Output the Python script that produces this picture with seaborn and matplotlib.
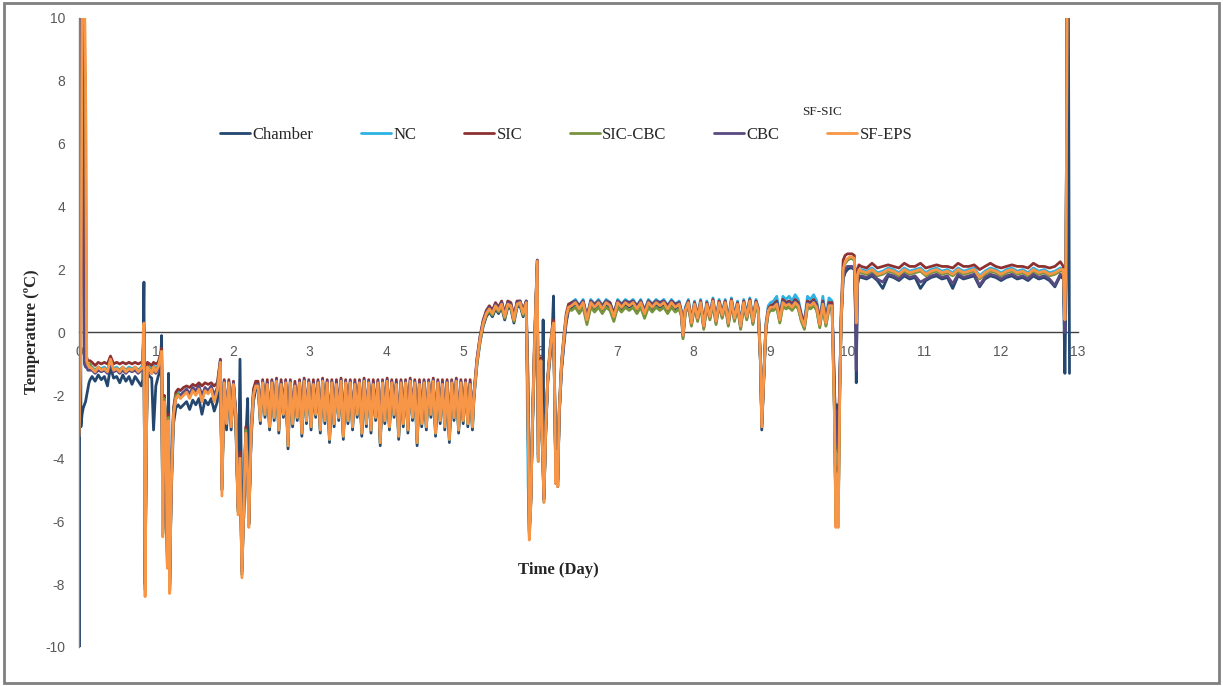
import pandas as pd
import seaborn as sns
import matplotlib.pyplot as plt
from matplotlib.patches import Rectangle

# sample times (day), shared by all six probes
day = [
    # start-up
    0.0, 0.006, 0.012, 0.025, 0.04, 0.055, 0.07, 0.085, 0.1, 0.115, 0.13, 0.145,
    # first plateau
    0.17, 0.21, 0.25, 0.29, 0.33, 0.37, 0.41, 0.45, 0.49, 0.53, 0.57, 0.61, 0.65, 0.69, 0.73, 0.77, 0.81,
    # door openings ~1 day
    0.83, 0.845, 0.86, 0.875, 0.89, 0.92, 0.946, 0.97, 1.0, 1.03, 1.06, 1.075, 1.09, 1.11, 1.13, 1.15,
    1.165, 1.18, 1.2, 1.23, 1.26, 1.29,
    # second plateau
    1.32, 1.36, 1.40, 1.44, 1.48, 1.52, 1.56, 1.60, 1.64, 1.68, 1.72, 1.76, 1.80,
    # dips ~2 days
    1.84, 1.86, 1.89, 1.92, 1.95, 1.98, 2.01, 2.04, 2.07, 2.095, 2.12, 2.145, 2.17, 2.195, 2.21, 2.24, 2.27, 2.30,
    # cycling -2 .. -3
    2.33, 2.36, 2.39, 2.42, 2.45, 2.48, 2.51, 2.54, 2.57, 2.60,
    2.63, 2.66, 2.69, 2.72, 2.75, 2.78, 2.81, 2.84, 2.87, 2.90,
    2.93, 2.96, 2.99, 3.02, 3.05, 3.08, 3.11, 3.14, 3.17, 3.20,
    3.23, 3.26, 3.29, 3.32, 3.35, 3.38, 3.41, 3.44, 3.47, 3.50,
    3.53, 3.56, 3.59, 3.62, 3.65, 3.68, 3.71, 3.74, 3.77, 3.80,
    3.83, 3.86, 3.89, 3.92, 3.95, 3.98, 4.01, 4.04, 4.07, 4.10,
    4.13, 4.16, 4.19, 4.22, 4.25, 4.28, 4.31, 4.34, 4.37, 4.40,
    4.43, 4.46, 4.49, 4.52, 4.55, 4.58, 4.61, 4.64, 4.67, 4.70,
    4.73, 4.76, 4.79, 4.82, 4.85, 4.88, 4.91, 4.94, 4.97, 5.00,
    5.03, 5.06, 5.09, 5.12,
    # warm-up to ~1
    5.14, 5.18, 5.22, 5.26, 5.30, 5.34, 5.38, 5.42, 5.46, 5.50, 5.54, 5.58, 5.62, 5.66, 5.70, 5.74, 5.78, 5.82,
    # dips ~6 days
    5.845, 5.86, 5.88, 5.90, 5.93, 5.95, 5.964, 5.977, 5.995, 6.01, 6.03, 6.04, 6.05, 6.075, 6.10, 6.13,
    6.155, 6.175, 6.19, 6.205, 6.215, 6.23, 6.25, 6.28, 6.31, 6.34, 6.37,
    # plateau ~1
    6.41, 6.46, 6.51, 6.56, 6.61, 6.66, 6.71, 6.76, 6.81, 6.86,
    6.91, 6.96, 7.01, 7.06, 7.11, 7.16, 7.21, 7.26, 7.31, 7.36,
    7.41, 7.46, 7.51, 7.56, 7.61, 7.66, 7.71, 7.76, 7.81,
    # cycling 0.2 .. 1
    7.84, 7.86, 7.89, 7.93, 7.97, 8.01, 8.05, 8.09, 8.13, 8.17, 8.21, 8.25, 8.29, 8.33, 8.37, 8.41,
    8.45, 8.49, 8.53, 8.57, 8.61, 8.65, 8.69, 8.73, 8.77, 8.81, 8.84,
    # dip ~8.9
    8.87, 8.885, 8.91, 8.94, 8.97, 9.0,
    # plateau
    9.04, 9.08, 9.12, 9.16, 9.20, 9.24, 9.28, 9.32, 9.36, 9.40, 9.44, 9.48, 9.52, 9.56, 9.60, 9.64, 9.68, 9.72, 9.76,
    # dip ~9.85 and step to 2
    9.80, 9.83, 9.85, 9.865, 9.88, 9.90, 9.92, 9.945, 9.97, 10.0, 10.03, 10.06, 10.09, 10.105, 10.115, 10.13, 10.15,
    # plateau ~2
    10.18, 10.25, 10.32, 10.39, 10.46, 10.53, 10.60, 10.67, 10.74, 10.81,
    10.88, 10.95, 11.02, 11.09, 11.16, 11.23, 11.30, 11.37, 11.44, 11.51,
    11.58, 11.65, 11.72, 11.79, 11.86, 11.93, 12.00, 12.07, 12.14, 12.21,
    12.28, 12.35, 12.42, 12.49, 12.56, 12.63, 12.70, 12.77,
    # end
    12.81, 12.83, 12.845, 12.86, 12.875, 12.89,
]

chamber = [
    -6.0, -10.0, 11.0, -3.0, -2.6, -2.4, -2.3, -2.2, -2.0, -1.8, -1.6, -1.5,
    -1.4, -1.55, -1.35, -1.5, -1.4, -1.7, -1.1, -1.45, -1.4, -1.6, -1.35, -1.55, -1.4, -1.65, -1.4, -1.55, -1.7,
    -1.5, 1.6, -7.9, -3.0, -1.3, -1.4, -1.45, -3.1, -1.7, -1.4, -1.2, -0.1, -6.0, -2.4, -3.2, -7.0,
    -1.3, -7.8, -5.2, -2.9, -2.4, -2.3,
    -2.4, -2.3, -2.2, -2.45, -2.15, -2.3, -2.1, -2.6, -2.15, -2.3, -2.1, -2.5, -2.2,
    -1.0, -4.6, -1.7, -3.1, -1.7, -3.1, -1.7, -2.9, -5.6, -0.85, -6.0, -5.9, -3.4, -2.1, -5.9, -3.4, -2.2, -1.8,
    -1.75, -2.9, -1.65, -2.7, -1.7, -3.1, -1.65, -2.8, -1.6, -3.2,
    -1.7, -2.7, -1.65, -3.7, -1.65, -3.0, -1.75, -2.8, -1.65, -3.3,
    -1.6, -2.9, -1.65, -3.1, -1.7, -2.7, -1.65, -3.2, -1.6, -2.9,
    -1.65, -3.5, -1.65, -3.0, -1.7, -2.8, -1.6, -3.4, -1.65, -2.9,
    -1.65, -3.1, -1.7, -2.7, -1.65, -3.3, -1.6, -3.0, -1.65, -3.2,
    -1.7, -2.8, -1.65, -3.6, -1.65, -2.9, -1.6, -3.1, -1.65, -2.7,
    -1.7, -3.4, -1.65, -3.0, -1.65, -3.2, -1.6, -2.8, -1.65, -3.6,
    -1.7, -3.0, -1.65, -3.1, -1.65, -2.7, -1.6, -3.3, -1.65, -2.9,
    -1.7, -3.1, -1.65, -3.5, -1.65, -2.8, -1.6, -3.2, -1.65, -2.9,
    -1.65, -3.0, -1.7, -3.1,
    -2.1, -1.0, -0.3, 0.2, 0.5, 0.65, 0.5, 0.75, 0.6, 0.8, 0.4, 0.8, 0.75, 0.3, 0.8, 0.85, 0.5, 0.9,
    -1.6, -6.0, -5.2, -3.2, -0.5, 1.1, 2.1, -3.9, -2.4, -1.0, -3.3, 0.4, -5.2, -3.1, -1.6, -0.8,
    -0.2, 1.16, -1.8, -4.6, -3.6, -4.7, -2.6, -1.2, -0.4, 0.3, 0.7,
    0.8, 0.9, 0.7, 0.9, 0.35, 0.9, 0.75, 0.9, 0.7, 0.9,
    0.8, 0.45, 0.9, 0.75, 0.9, 0.8, 0.9, 0.7, 0.9, 0.55,
    0.9, 0.75, 0.9, 0.8, 0.9, 0.7, 0.9, 0.75, 0.85,
    0.55, -0.15, 0.65, 0.9, 0.25, 0.85, 0.4, 0.9, 0.15, 0.85, 0.45, 0.95, 0.3, 0.9, 0.5, 0.9,
    0.25, 0.95, 0.4, 0.85, 0.15, 0.9, 0.45, 0.95, 0.3, 0.9, 0.65,
    -1.1, -3.1, -1.6, 0.1, 0.65, 0.75,
    0.75, 0.85, 0.35, 0.9, 0.8, 0.85, 0.75, 0.9, 0.8, 0.4, 0.15, 0.85, 0.8, 0.9, 0.75, 0.2, 0.85, 0.25, 0.8,
    0.8, -1.5, -3.7, -2.3, -3.8, -1.5, 0.4, 1.7, 1.9, 2.0, 2.05, 2.05, 2.0, 0.5, -1.6, 1.5, 1.75,
    1.75, 1.7, 1.8, 1.65, 1.4, 1.8, 1.75, 1.65, 1.8, 1.7,
    1.75, 1.4, 1.65, 1.75, 1.8, 1.7, 1.75, 1.4, 1.8, 1.7,
    1.75, 1.8, 1.45, 1.7, 1.8, 1.75, 1.65, 1.75, 1.8, 1.7,
    1.75, 1.65, 1.8, 1.7, 1.75, 1.65, 1.45, 1.8,
    1.7, -1.3, 1.5, 11.0, 11.0, -1.3,
]

nc = [
    -3.0, -2.6, 11.0, 11.0, 11.0, 11.0, 10.5, 1.0, -1.0, -1.0, -1.1, -1.1,
    -1.1, -1.2, -1.1, -1.15, -1.1, -1.2, -0.9, -1.15, -1.1, -1.2, -1.1, -1.2, -1.1, -1.15, -1.1, -1.2, -1.1,
    -1.05, 0.25, -8.2, -3.8, -1.05, -1.1, -1.2, -1.05, -1.15, -1.05, -0.75, -0.55, -6.4, -2.1, -2.9, -7.4,
    -2.7, -8.2, -4.8, -2.5, -2.0, -1.9,
    -2.0, -1.9, -1.85, -2.0, -1.8, -1.9, -1.75, -2.1, -1.8, -1.9, -1.75, -2.1, -1.8,
    -0.9, -5.0, -1.55, -2.8, -1.55, -2.9, -1.6, -2.6, -5.7, -3.9, -7.7, -5.4, -3.1, -4.4, -6.1, -3.1, -1.9, -1.65,
    -1.7, -2.8, -1.6, -2.6, -1.65, -3.0, -1.6, -2.7, -1.55, -3.1,
    -1.65, -2.6, -1.6, -3.6, -1.6, -2.9, -1.7, -2.7, -1.6, -3.2,
    -1.55, -2.8, -1.6, -3.0, -1.65, -2.6, -1.6, -3.1, -1.55, -2.8,
    -1.6, -3.4, -1.6, -2.9, -1.65, -2.7, -1.55, -3.3, -1.6, -2.8,
    -1.6, -3.0, -1.65, -2.6, -1.6, -3.2, -1.55, -2.9, -1.6, -3.1,
    -1.65, -2.7, -1.6, -3.5, -1.6, -2.8, -1.55, -3.0, -1.6, -2.6,
    -1.65, -3.3, -1.6, -2.9, -1.6, -3.1, -1.55, -2.7, -1.6, -3.5,
    -1.65, -2.9, -1.6, -3.0, -1.6, -2.6, -1.55, -3.2, -1.6, -2.8,
    -1.65, -3.0, -1.6, -3.4, -1.6, -2.7, -1.55, -3.1, -1.6, -2.8,
    -1.6, -2.9, -1.65, -3.0,
    -2.0, -0.9, -0.2, 0.3, 0.65, 0.8, 0.65, 0.9, 0.75, 0.95, 0.55, 0.95, 0.9, 0.45, 0.95, 1.0, 0.65, 1.0,
    -4.8, -6.3, -5.3, -3.0, -0.3, 1.2, 2.2, -4.0, -2.5, -0.9, -3.4, -4.4, -5.3, -3.0, -1.5, -0.6,
    0.0, 0.3, -2.0, -4.7, -3.7, -4.8, -2.5, -1.0, -0.2, 0.5, 0.8,
    0.95, 1.05, 0.85, 1.05, 0.5, 1.05, 0.9, 1.05, 0.85, 1.05,
    0.95, 0.6, 1.05, 0.9, 1.05, 0.95, 1.05, 0.85, 1.05, 0.7,
    1.05, 0.9, 1.05, 0.95, 1.05, 0.85, 1.05, 0.9, 1.0,
    0.7, 0.0, 0.8, 1.05, 0.4, 1.0, 0.55, 1.05, 0.3, 1.0, 0.6, 1.1, 0.45, 1.05, 0.65, 1.05,
    0.4, 1.1, 0.55, 1.0, 0.3, 1.05, 0.6, 1.1, 0.45, 1.05, 0.8,
    -0.9, -2.9, -1.4, 0.3, 0.85, 0.95,
    1.0, 1.15, 0.55, 1.15, 1.05, 1.15, 1.0, 1.2, 1.05, 0.6, 0.35, 1.15, 1.05, 1.2, 1.0, 0.4, 1.15, 0.45, 1.1,
    1.0, -2.4, -6.0, -4.4, -6.0, -1.9, 0.6, 2.0, 2.2, 2.3, 2.35, 2.35, 2.3, 1.2, 0.3, 1.8, 1.95,
    2.0, 1.95, 2.05, 1.9, 1.95, 2.05, 2.0, 1.9, 2.05, 1.95,
    2.0, 2.05, 1.9, 2.0, 2.05, 1.95, 2.0, 1.9, 2.05, 1.95,
    2.0, 2.05, 1.8, 1.95, 2.05, 2.0, 1.9, 2.0, 2.05, 1.95,
    2.0, 1.9, 2.05, 1.95, 2.0, 1.9, 1.95, 2.05,
    2.0, 0.5, 2.5, 11.0, 11.0, 11.0,
]

sic = [
    -2.6, -2.4, 11.0, 11.0, 11.0, 11.0, 10.0, 0.5, -0.8, -0.9, -0.9, -0.9,
    -0.95, -1.05, -0.95, -1.0, -0.95, -1.0, -0.75, -1.0, -0.95, -1.0, -0.95, -1.0, -0.95, -1.0, -0.95, -1.0, -0.95,
    -0.95, 0.2, -8.0, -3.5, -0.95, -1.0, -1.05, -0.95, -1.0, -0.95, -0.7, -0.5, -6.2, -2.0, -2.8, -7.2,
    -2.6, -8.0, -4.6, -2.4, -1.9, -1.8,
    -1.85, -1.75, -1.7, -1.75, -1.65, -1.7, -1.6, -1.7, -1.6, -1.65, -1.6, -1.7, -1.6,
    -0.85, -4.8, -1.5, -2.7, -1.5, -2.8, -1.55, -2.5, -5.5, -3.8, -7.5, -5.3, -3.0, -4.3, -6.0, -3.0, -1.8, -1.55,
    -1.55, -2.6, -1.5, -2.4, -1.5, -2.8, -1.5, -2.5, -1.45, -2.9,
    -1.5, -2.4, -1.5, -3.4, -1.5, -2.7, -1.55, -2.5, -1.5, -3.0,
    -1.45, -2.6, -1.5, -2.8, -1.5, -2.4, -1.5, -2.9, -1.45, -2.6,
    -1.5, -3.2, -1.5, -2.7, -1.5, -2.5, -1.45, -3.1, -1.5, -2.6,
    -1.5, -2.8, -1.5, -2.4, -1.5, -3.0, -1.45, -2.7, -1.5, -2.9,
    -1.5, -2.5, -1.5, -3.3, -1.5, -2.6, -1.45, -2.8, -1.5, -2.4,
    -1.5, -3.1, -1.5, -2.7, -1.5, -2.9, -1.45, -2.5, -1.5, -3.3,
    -1.5, -2.7, -1.5, -2.8, -1.5, -2.4, -1.45, -3.0, -1.5, -2.6,
    -1.5, -2.8, -1.5, -3.2, -1.5, -2.5, -1.45, -2.9, -1.5, -2.6,
    -1.5, -2.7, -1.5, -2.8,
    -1.9, -0.8, -0.1, 0.4, 0.7, 0.85, 0.7, 0.95, 0.8, 1.0, 0.6, 1.0, 0.95, 0.5, 1.0, 1.0, 0.7, 1.0,
    -2.8, -6.3, -5.3, -2.8, 0.0, 1.4, 2.3, -3.9, -2.3, -0.8, -3.3, -4.3, -5.2, -2.9, -1.4, -0.5,
    0.1, 0.4, -1.9, -4.6, -3.6, -4.7, -2.4, -0.9, -0.1, 0.6, 0.9,
    0.95, 1.0, 0.85, 1.0, 0.5, 1.0, 0.9, 1.0, 0.85, 1.0,
    0.95, 0.6, 1.0, 0.9, 1.0, 0.95, 1.0, 0.85, 1.0, 0.7,
    1.0, 0.9, 1.0, 0.95, 1.0, 0.85, 1.0, 0.9, 0.95,
    0.65, -0.05, 0.75, 1.0, 0.35, 0.95, 0.5, 1.0, 0.25, 0.95, 0.55, 1.05, 0.4, 1.0, 0.6, 1.0,
    0.35, 1.05, 0.5, 0.95, 0.25, 1.0, 0.55, 1.05, 0.4, 1.0, 0.75,
    -0.95, -2.9, -1.4, 0.25, 0.75, 0.85,
    0.9, 1.0, 0.5, 1.05, 0.95, 1.0, 0.9, 1.05, 0.95, 0.55, 0.3, 1.0, 0.95, 1.05, 0.9, 0.35, 1.0, 0.4, 0.95,
    0.95, -2.3, -5.9, -4.3, -5.9, -1.8, 0.8, 2.3, 2.45, 2.5, 2.5, 2.5, 2.45, 1.5, 0.6, 2.0, 2.15,
    2.1, 2.05, 2.2, 2.05, 2.1, 2.15, 2.1, 2.05, 2.2, 2.1,
    2.1, 2.2, 2.05, 2.1, 2.15, 2.1, 2.1, 2.05, 2.2, 2.1,
    2.1, 2.15, 2.0, 2.1, 2.2, 2.1, 2.05, 2.1, 2.15, 2.1,
    2.1, 2.05, 2.2, 2.1, 2.1, 2.05, 2.1, 2.25,
    2.1, 0.6, 2.6, 11.0, 11.0, 11.0,
]

sic_cbc = [
    -2.8, -2.5, 10.0, 11.0, 11.0, 11.0, 8.2, 8.2, -1.0, -1.0, -1.0, -1.0,
    -1.15, -1.2, -1.1, -1.2, -1.15, -1.2, -0.9, -1.2, -1.15, -1.2, -1.1, -1.2, -1.15, -1.2, -1.1, -1.2, -1.15,
    -1.1, 0.2, -8.1, -3.8, -1.1, -1.15, -1.2, -1.1, -1.2, -1.1, -0.8, -0.6, -6.4, -2.1, -2.9, -7.4,
    -2.7, -8.1, -4.8, -2.5, -2.0, -1.95,
    -2.05, -1.95, -1.85, -2.05, -1.8, -1.95, -1.75, -2.15, -1.8, -1.9, -1.75, -2.15, -1.8,
    -0.95, -5.0, -1.6, -2.85, -1.6, -2.95, -1.65, -2.65, -5.7, -4.0, -7.7, -5.4, -3.1, -4.4, -6.1, -3.1, -1.95, -1.7,
    -1.7, -2.8, -1.6, -2.6, -1.65, -3.0, -1.6, -2.7, -1.55, -3.1,
    -1.65, -2.6, -1.6, -3.6, -1.6, -2.9, -1.7, -2.7, -1.6, -3.2,
    -1.55, -2.8, -1.6, -3.0, -1.65, -2.6, -1.6, -3.1, -1.55, -2.8,
    -1.6, -3.4, -1.6, -2.9, -1.65, -2.7, -1.55, -3.3, -1.6, -2.8,
    -1.6, -3.0, -1.65, -2.6, -1.6, -3.2, -1.55, -2.9, -1.6, -3.1,
    -1.65, -2.7, -1.6, -3.5, -1.6, -2.8, -1.55, -3.0, -1.6, -2.6,
    -1.65, -3.3, -1.6, -2.9, -1.6, -3.1, -1.55, -2.7, -1.6, -3.5,
    -1.65, -2.9, -1.6, -3.0, -1.6, -2.6, -1.55, -3.2, -1.6, -2.8,
    -1.65, -3.0, -1.6, -3.4, -1.6, -2.7, -1.55, -3.1, -1.6, -2.8,
    -1.6, -2.9, -1.65, -3.0,
    -2.0, -0.95, -0.25, 0.25, 0.55, 0.7, 0.55, 0.8, 0.65, 0.85, 0.45, 0.85, 0.8, 0.35, 0.85, 0.9, 0.55, 0.9,
    -3.0, -6.5, -5.4, -3.0, -0.2, 1.3, 2.2, -4.1, -2.5, -0.9, -3.5, -4.5, -5.4, -3.0, -1.5, -0.6,
    0.0, 0.3, -2.0, -4.8, -3.8, -4.9, -2.5, -1.0, -0.2, 0.45, 0.75,
    0.7, 0.8, 0.6, 0.8, 0.25, 0.8, 0.65, 0.8, 0.6, 0.8,
    0.7, 0.35, 0.8, 0.65, 0.8, 0.7, 0.8, 0.6, 0.8, 0.45,
    0.8, 0.65, 0.8, 0.7, 0.8, 0.6, 0.8, 0.65, 0.75,
    0.5, -0.2, 0.6, 0.85, 0.2, 0.8, 0.35, 0.85, 0.1, 0.8, 0.4, 0.9, 0.25, 0.85, 0.45, 0.85,
    0.2, 0.9, 0.35, 0.8, 0.1, 0.85, 0.4, 0.9, 0.25, 0.85, 0.6,
    -1.05, -3.0, -1.55, 0.1, 0.6, 0.7,
    0.7, 0.8, 0.3, 0.85, 0.75, 0.8, 0.7, 0.85, 0.75, 0.35, 0.1, 0.8, 0.75, 0.85, 0.7, 0.15, 0.8, 0.2, 0.75,
    0.75, -2.5, -6.1, -4.5, -6.1, -2.0, 0.5, 1.95, 2.2, 2.3, 2.35, 2.35, 2.3, 1.1, 0.3, 1.75, 1.95,
    1.9, 1.85, 1.95, 1.8, 1.85, 1.95, 1.9, 1.8, 1.95, 1.85,
    1.9, 1.95, 1.8, 1.9, 1.95, 1.85, 1.9, 1.8, 1.95, 1.85,
    1.9, 1.95, 1.7, 1.85, 1.95, 1.9, 1.8, 1.9, 1.95, 1.85,
    1.9, 1.8, 1.95, 1.85, 1.9, 1.8, 1.85, 1.95,
    1.95, 0.4, 2.5, 11.0, 11.0, 11.0,
]

cbc = [
    -2.8, 11.0, 8.5, 9.5, 10.0, 2.3, -1.0, -1.1, -1.1, -1.2, -1.2, -1.2,
    -1.2, -1.3, -1.2, -1.25, -1.2, -1.3, -1.0, -1.25, -1.2, -1.3, -1.2, -1.3, -1.2, -1.25, -1.2, -1.3, -1.2,
    -1.2, 0.1, -8.0, -3.6, -1.2, -1.25, -1.3, -1.2, -1.3, -1.2, -0.9, -0.7, -6.3, -2.2, -3.0, -7.3,
    -2.8, -8.2, -4.9, -2.6, -2.1, -2.0,
    -2.0, -1.9, -1.8, -1.95, -1.75, -1.85, -1.7, -2.0, -1.75, -1.85, -1.7, -2.0, -1.75,
    -0.9, -5.0, -1.55, -2.8, -1.6, -2.9, -1.6, -2.6, -5.6, -4.1, -7.6, -5.6, -3.2, -4.4, -6.1, -3.2, -2.0, -1.7,
    -1.65, -2.7, -1.55, -2.5, -1.6, -2.9, -1.55, -2.6, -1.5, -3.0,
    -1.6, -2.5, -1.55, -3.5, -1.55, -2.8, -1.65, -2.6, -1.55, -3.1,
    -1.5, -2.7, -1.55, -2.9, -1.6, -2.5, -1.55, -3.0, -1.5, -2.7,
    -1.55, -3.3, -1.55, -2.8, -1.6, -2.6, -1.5, -3.2, -1.55, -2.7,
    -1.55, -2.9, -1.6, -2.5, -1.55, -3.1, -1.5, -2.8, -1.55, -3.0,
    -1.6, -2.6, -1.55, -3.4, -1.55, -2.7, -1.5, -2.9, -1.55, -2.5,
    -1.6, -3.2, -1.55, -2.8, -1.55, -3.0, -1.5, -2.6, -1.55, -3.4,
    -1.6, -2.8, -1.55, -2.9, -1.55, -2.5, -1.5, -3.1, -1.55, -2.7,
    -1.6, -2.9, -1.55, -3.3, -1.55, -2.6, -1.5, -3.0, -1.55, -2.7,
    -1.55, -2.8, -1.6, -2.9,
    -1.95, -0.85, -0.15, 0.35, 0.65, 0.8, 0.65, 0.9, 0.75, 0.95, 0.55, 0.95, 0.9, 0.45, 0.95, 1.0, 0.65, 1.0,
    -3.1, -6.4, -5.4, -3.1, -0.3, 1.3, 2.3, -4.0, -2.5, -1.0, -3.5, -4.5, -5.3, -3.1, -1.5, -0.7,
    -0.1, 0.2, -2.1, -4.8, -3.8, -4.9, -2.6, -1.1, -0.3, 0.4, 0.75,
    0.9, 1.0, 0.8, 1.0, 0.45, 1.0, 0.85, 1.0, 0.8, 1.0,
    0.9, 0.55, 1.0, 0.85, 1.0, 0.9, 1.0, 0.8, 1.0, 0.65,
    1.0, 0.85, 1.0, 0.9, 1.0, 0.8, 1.0, 0.85, 0.95,
    0.6, -0.1, 0.7, 0.95, 0.3, 0.9, 0.45, 0.95, 0.2, 0.9, 0.5, 1.0, 0.35, 0.95, 0.55, 0.95,
    0.3, 1.0, 0.45, 0.9, 0.2, 0.95, 0.5, 1.0, 0.35, 0.95, 0.7,
    -1.0, -3.0, -1.5, 0.2, 0.7, 0.8,
    0.85, 0.95, 0.45, 1.0, 0.9, 0.95, 0.85, 1.0, 0.9, 0.5, 0.25, 0.95, 0.9, 1.0, 0.85, 0.3, 0.95, 0.35, 0.9,
    0.85, -1.8, -3.5, -2.5, -3.6, -1.6, 0.5, 1.8, 2.0, 2.1, 2.1, 2.1, 2.05, 0.8, -1.2, 1.6, 1.8,
    1.8, 1.75, 1.85, 1.7, 1.6, 1.85, 1.8, 1.7, 1.85, 1.75,
    1.8, 1.6, 1.7, 1.8, 1.85, 1.75, 1.8, 1.55, 1.85, 1.75,
    1.8, 1.85, 1.5, 1.75, 1.85, 1.8, 1.7, 1.8, 1.85, 1.75,
    1.8, 1.7, 1.85, 1.75, 1.8, 1.7, 1.5, 1.85,
    1.8, 0.0, 2.2, 11.0, 11.0, 11.0,
]

sf_eps = [
    -3.3, -2.8, -2.0, -0.6, 11.0, 11.0, 11.0, 8.3, -0.9, -1.0, -1.1, -1.1,
    -1.15, -1.25, -1.1, -1.2, -1.15, -1.25, -0.85, -1.2, -1.15, -1.25, -1.1, -1.25, -1.15, -1.2, -1.1, -1.25, -1.15,
    -1.1, 0.3, -8.4, -4.0, -1.1, -1.2, -1.3, -1.1, -1.25, -1.1, -0.8, -0.6, -6.5, -2.2, -3.0, -7.5,
    -2.8, -8.3, -5.0, -2.6, -2.1, -2.0,
    -2.1, -2.0, -1.9, -2.1, -1.85, -2.0, -1.8, -2.2, -1.85, -1.95, -1.8, -2.2, -1.85,
    -0.95, -5.2, -1.6, -2.9, -1.6, -3.0, -1.65, -2.7, -5.8, -4.0, -7.8, -5.5, -3.2, -4.5, -6.2, -3.2, -2.0, -1.7,
    -1.7, -2.8, -1.6, -2.6, -1.65, -3.0, -1.6, -2.7, -1.55, -3.1,
    -1.65, -2.6, -1.6, -3.6, -1.6, -2.9, -1.7, -2.7, -1.6, -3.2,
    -1.55, -2.8, -1.6, -3.0, -1.65, -2.6, -1.6, -3.1, -1.55, -2.8,
    -1.6, -3.4, -1.6, -2.9, -1.65, -2.7, -1.55, -3.3, -1.6, -2.8,
    -1.6, -3.0, -1.65, -2.6, -1.6, -3.2, -1.55, -2.9, -1.6, -3.1,
    -1.65, -2.7, -1.6, -3.5, -1.6, -2.8, -1.55, -3.0, -1.6, -2.6,
    -1.65, -3.3, -1.6, -2.9, -1.6, -3.1, -1.55, -2.7, -1.6, -3.5,
    -1.65, -2.9, -1.6, -3.0, -1.6, -2.6, -1.55, -3.2, -1.6, -2.8,
    -1.65, -3.0, -1.6, -3.4, -1.6, -2.7, -1.55, -3.1, -1.6, -2.8,
    -1.6, -2.9, -1.65, -3.0,
    -2.0, -0.9, -0.2, 0.3, 0.6, 0.75, 0.6, 0.85, 0.7, 0.9, 0.5, 0.9, 0.85, 0.4, 0.9, 0.95, 0.6, 0.95,
    -3.0, -6.6, -5.5, -3.0, -0.2, 1.3, 2.27, -4.1, -2.5, -0.9, -3.5, -4.5, -5.4, -3.0, -1.5, -0.6,
    0.0, 0.3, -2.0, -4.8, -3.8, -4.9, -2.5, -1.0, -0.2, 0.5, 0.8,
    0.85, 0.95, 0.75, 0.95, 0.4, 0.95, 0.8, 0.95, 0.75, 0.95,
    0.85, 0.5, 0.95, 0.8, 0.95, 0.85, 0.95, 0.75, 0.95, 0.6,
    0.95, 0.8, 0.95, 0.85, 0.95, 0.75, 0.95, 0.8, 0.9,
    0.6, -0.1, 0.7, 0.95, 0.3, 0.9, 0.45, 0.95, 0.2, 0.9, 0.5, 1.0, 0.35, 0.95, 0.55, 0.95,
    0.3, 1.0, 0.45, 0.9, 0.2, 0.95, 0.5, 1.0, 0.35, 0.95, 0.7,
    -1.0, -3.0, -1.5, 0.2, 0.7, 0.8,
    0.8, 0.9, 0.4, 0.95, 0.85, 0.9, 0.8, 0.95, 0.85, 0.45, 0.2, 0.9, 0.85, 0.95, 0.8, 0.25, 0.9, 0.3, 0.85,
    0.85, -2.5, -6.2, -4.5, -6.2, -2.0, 0.5, 2.0, 2.25, 2.35, 2.4, 2.4, 2.35, 1.2, 0.3, 1.8, 2.0,
    1.95, 1.9, 2.0, 1.85, 1.9, 2.0, 1.95, 1.85, 2.0, 1.9,
    1.95, 2.0, 1.85, 1.95, 2.0, 1.9, 1.95, 1.85, 2.0, 1.9,
    1.95, 2.0, 1.75, 1.9, 2.0, 1.95, 1.85, 1.95, 2.0, 1.9,
    1.95, 1.85, 2.0, 1.9, 1.95, 1.85, 1.9, 2.0,
    2.0, 0.4, 2.5, 11.0, 11.0, 11.0,
]

probes = ['Chamber', 'NC', 'SIC', 'SIC-CBC', 'CBC', 'SF-EPS']
colors = ['#24476f', '#2eb2e3', '#8e3131', '#77933c', '#5a4a82', '#f79646']
xticks = list(range(0, 14))
yticks = list(range(-10, 11, 2))

series = dict(zip(probes, [chamber, nc, sic, sic_cbc, cbc, sf_eps]))
for name, vals in series.items():
    assert len(vals) == len(day), (name, len(vals), len(day))

df = pd.concat([pd.DataFrame({'day': day, 'temp': v, 'probe': k}) for k, v in series.items()],
               ignore_index=True)

sns.set_style('white')
plt.rcParams['font.family'] = ['Liberation Sans', 'DejaVu Sans']
plt.rcParams['axes.unicode_minus'] = False

fig = plt.figure(figsize=(12.23, 6.86), dpi=100)
ax = fig.add_axes([0.0646, 0.0569, 0.8168, 0.9169])

sns.lineplot(data=df, x='day', y='temp', hue='probe', hue_order=probes, palette=colors,
             estimator=None, sort=False, lw=2.0, ax=ax)

ax.set_xlim(0, 13)
ax.set_ylim(-10, 10)
ax.set_xticks(xticks)
ax.set_yticks(yticks)
ax.set_xlabel('')
ax.set_ylabel('')
for s in ['top', 'right']:
    ax.spines[s].set_visible(False)
ax.spines['bottom'].set_position(('data', 0))
ax.spines['bottom'].set_color('#404040')
ax.spines['bottom'].set_linewidth(1.0)
ax.spines['bottom'].set_zorder(1)
ax.spines['left'].set_color('#7f7f7f')
ax.spines['left'].set_linewidth(1.0)
ax.tick_params(length=0, labelsize=10, colors='#595959')
ax.tick_params(axis='x', pad=9)
ax.tick_params(axis='y', pad=10)

# legend row across the top
handles, labels = ax.get_legend_handles_labels()
leg = ax.legend(handles, labels, ncol=6, frameon=False, loc='center',
                bbox_to_anchor=(0.463, 0.803), bbox_transform=fig.transFigure,
                handlelength=1.8, handletextpad=0.15, columnspacing=2.85,
                prop={'family': 'Liberation Serif', 'size': 12})
for line in leg.get_lines():
    line.set_linewidth(2)

serif = 'Liberation Serif'
fig.text(822 / 1223, 1 - 112 / 686, 'SF-SIC', ha='center', va='center', family=serif, fontsize=9.5)
fig.text(558 / 1223, 1 - 570 / 686, 'Time (Day)', ha='center', va='center', family=serif,
         fontsize=12, fontweight='bold')
fig.text(32 / 1223, 1 - 332 / 686, 'Temperature (ºC)', ha='center', va='center', rotation=90,
         family=serif, fontsize=12, fontweight='bold')

fig.add_artist(Rectangle((0.003, 0.004), 0.994, 0.992, transform=fig.transFigure,
                         fill=False, ec='#7f7f7f', lw=2))

fig.savefig('out.png', dpi=100)
